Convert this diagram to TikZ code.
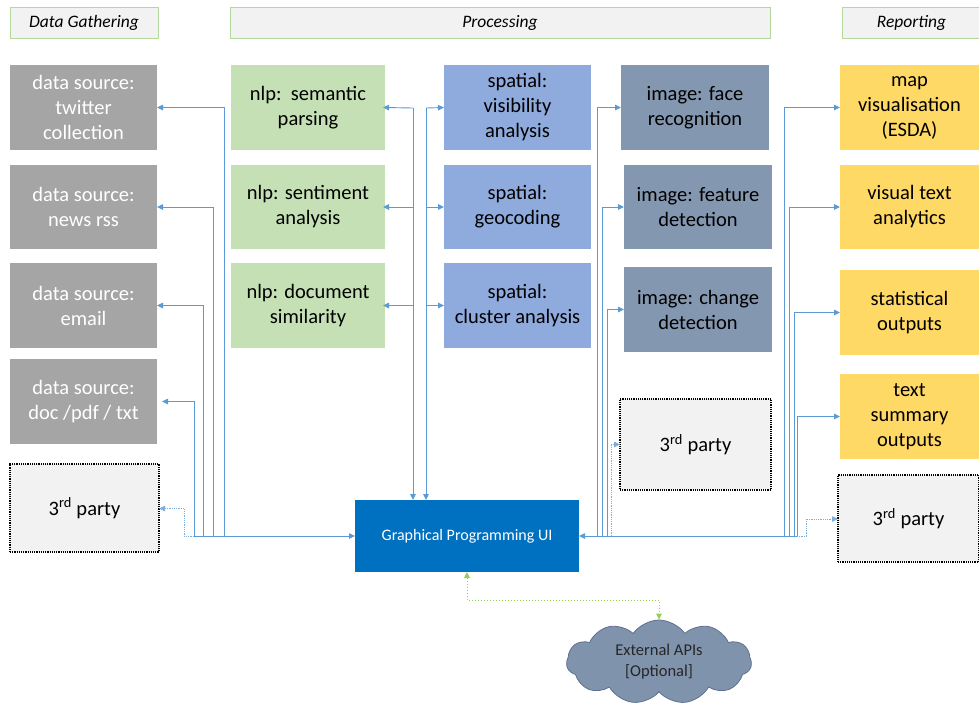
\documentclass[tikz,border=0pt]{standalone}
\usepackage{fontspec}
\setmainfont{Carlito}
\usetikzlibrary{arrows.meta,shapes.symbols}
\definecolor{cgray}{HTML}{A5A5A5}
\definecolor{cgreen}{HTML}{C5E0B4}
\definecolor{cspat}{HTML}{8FAADC}
\definecolor{cimg}{HTML}{8497B0}
\definecolor{cyel}{HTML}{FFD966}
\definecolor{cgui}{HTML}{0070C0}
\definecolor{chead}{HTML}{F2F2F2}
\definecolor{cheadb}{HTML}{B4D79C}
\definecolor{cconn}{HTML}{5B9BD5}
\definecolor{cdot}{HTML}{9DC3E6}
\definecolor{cgdot}{HTML}{92D050}
\definecolor{ccloud}{HTML}{8093AD}
\definecolor{ccloudb}{HTML}{5E7090}
\begin{document}
\begin{tikzpicture}[x=1pt,y=-1pt,
  base/.style={anchor=north west,inner sep=0pt,outer sep=0pt,align=center,
    font=\fontsize{20.5}{25}\selectfont},
  gbox/.style={base,fill=cgray,text=white},
  nbox/.style={base,fill=cgreen,text=black},
  sbox/.style={base,fill=cspat,text=black},
  ibox/.style={base,fill=cimg,text=black},
  rbox/.style={base,fill=cyel,text=black},
  tpbox/.style={base,fill=chead,draw=black,densely dotted,line width=1.2pt},
  head/.style={anchor=north west,inner sep=0pt,outer sep=0pt,fill=chead,draw=cheadb,line width=0.8pt,
    font=\fontsize{17.5}{19}\selectfont\itshape},
  conn/.style={draw=cconn,line width=0.9pt,-{Triangle[length=6pt,width=5.5pt]}},
  dconn/.style={draw=cconn!80,line width=0.8pt,densely dotted,-{Triangle[length=6pt,width=5.5pt]}},
  gdot/.style={draw=cgdot,line width=1pt,dotted,{Triangle[length=6pt,width=5.5pt]}-{Triangle[length=6pt,width=5.5pt]}}
]
\useasboundingbox (0,0) rectangle (979,705);
\fill[white] (0,0) rectangle (979,705);
% headers
\node[head,minimum width=148pt,minimum height=31pt] (hdg) at (10,7) {Data Gathering};
\node[head,minimum width=540pt,minimum height=31pt] (hpr) at (230,7) {Processing};
\node[head,minimum width=139pt,minimum height=31pt] (hre) at (842,7) {Reporting};
% data sources
\node[gbox,minimum width=147pt,minimum height=85pt] (tw) at (10,65) {data source:\\twitter\\collection};
\node[gbox,minimum width=147pt,minimum height=84pt] (rss) at (10,165) {data source:\\news rss};
\node[gbox,minimum width=147pt,minimum height=85pt] (em) at (10,263) {data source:\\email};
\node[gbox,minimum width=147pt,minimum height=85pt] (doc) at (10,359) {data source:\\doc /pdf / txt};
\node[tpbox,minimum width=149pt,minimum height=88pt] (tpl) at (10,464) {3\textsuperscript{rd} party};
% nlp
\node[nbox,minimum width=154pt,minimum height=85pt] (sem) at (231,65) {nlp:\ \ semantic\\parsing};
\node[nbox,minimum width=154pt,minimum height=84pt] (sen) at (231,165) {nlp: sentiment\\analysis};
\node[nbox,minimum width=154pt,minimum height=85pt] (dsim) at (231,263) {nlp: document\\similarity};
% spatial
\node[sbox,minimum width=147pt,minimum height=85pt] (vis) at (444,65) {spatial:\\visibility\\analysis};
\node[sbox,minimum width=147pt,minimum height=84pt] (geo) at (444,165) {spatial:\\geocoding};
\node[sbox,minimum width=147pt,minimum height=85pt] (clu) at (444,263) {spatial:\\cluster analysis};
% image
\node[ibox,minimum width=148pt,minimum height=85pt] (face) at (621,65) {image: face\\recognition};
\node[ibox,minimum width=148pt,minimum height=84pt] (feat) at (624,165) {image: feature\\detection};
\node[ibox,minimum width=148pt,minimum height=85pt] (chg) at (624,267) {image: change\\detection};
\node[tpbox,minimum width=151pt,minimum height=91pt] (tpm) at (620,399) {3\textsuperscript{rd} party};
% reporting
\node[rbox,minimum width=139pt,minimum height=85pt] (map) at (840,65) {map\\visualisation\\(ESDA)};
\node[rbox,minimum width=139pt,minimum height=84pt] (vta) at (840,165) {visual text\\analytics};
\node[rbox,minimum width=139pt,minimum height=85pt] (stat) at (840,270) {statistical\\outputs};
\node[rbox,minimum width=139pt,minimum height=85pt] (tsum) at (840,374) {text\\summary\\outputs};
\node[tpbox,minimum width=141pt,minimum height=87pt] (tpr) at (838,475) {3\textsuperscript{rd} party};
% GUI
\node[anchor=north west,inner sep=0pt,outer sep=0pt,fill=cgui,text=white,minimum width=224pt,minimum height=72pt,
  font=\fontsize{16}{18}\selectfont] (gui) at (355,500) {Graphical Programming UI};
% cloud
\node[cloud,cloud puffs=11,cloud puff arc=110,aspect=2.2,fill=ccloud,draw=ccloudb,line width=0.8pt,
  minimum width=185pt,minimum height=84pt,inner sep=0pt,align=center,text=black!85,
  font=\fontsize{16.5}{21}\selectfont] (cl) at (659,662) {External APIs\\{}[Optional]};
% bus coordinates
\coordinate (L1) at (224,536);
\coordinate (L2) at (213,536);
\coordinate (L3) at (203,536);
\coordinate (L4) at (194,536);
\coordinate (L5) at (184,536);
\coordinate (M1) at (413,108);
\coordinate (M2) at (426,108);
\coordinate (I1) at (597,536);
\coordinate (I2) at (602,536);
\coordinate (I3) at (607,536);
\coordinate (I4) at (611,536);
\coordinate (R1) at (784,536);
\coordinate (R2) at (789,536);
\coordinate (R3) at (794,536);
\coordinate (R4) at (797,536);
\coordinate (R5) at (806,536);
% left connectors
\draw[conn] (L4) -- (gui.west);
\draw[conn] (L1) |- (tw.east);
\draw[conn] (L2) |- (rss.east);
\draw[conn] (L3) |- (em.east);
\draw[conn,shorten >=5pt] (L4) |- (doc.east);
\draw[dconn] (L4) -- (L5) |- ([yshift=-0.5pt]tpl.east);
% middle connectors
\draw[conn] (M1) -- (M1 |- gui.north);
\draw[conn] (M2) -- (M2 |- gui.north);
\draw[conn,shorten >=-2pt] (M1) -- (sem.east);
\draw[conn,shorten >=-2pt] (M1 |- sen.east) -- (sen.east);
\draw[conn,shorten >=-2pt] (M1 |- dsim.east) -- (dsim.east);
\draw[conn] (M2) -- (vis.west);
\draw[conn] (M2 |- geo.west) -- (geo.west);
\draw[conn] (M2 |- clu.west) -- (clu.west);
% image connectors
\draw[conn] (R4) -- (gui.east);
\draw[conn] (I1) |- (face.west);
\draw[conn] (I2) |- (feat.west);
\draw[conn] (I3) |- (chg.west);
\draw[dconn] (I4) |- (tpm.west);
% reporting connectors
\draw[conn] (R1) |- (map.west);
\draw[conn] (R2) |- (vta.west);
\draw[conn] (R3) |- (stat.west);
\draw[conn] (R4) |- (tsum.west);
\draw[dconn] (R4) -- (R5) |- ([yshift=-0.5pt]tpr.west);
% external API
\draw[gdot] (gui.south) -- ++(0,28) -| (cl.north);
\end{tikzpicture}
\end{document}
